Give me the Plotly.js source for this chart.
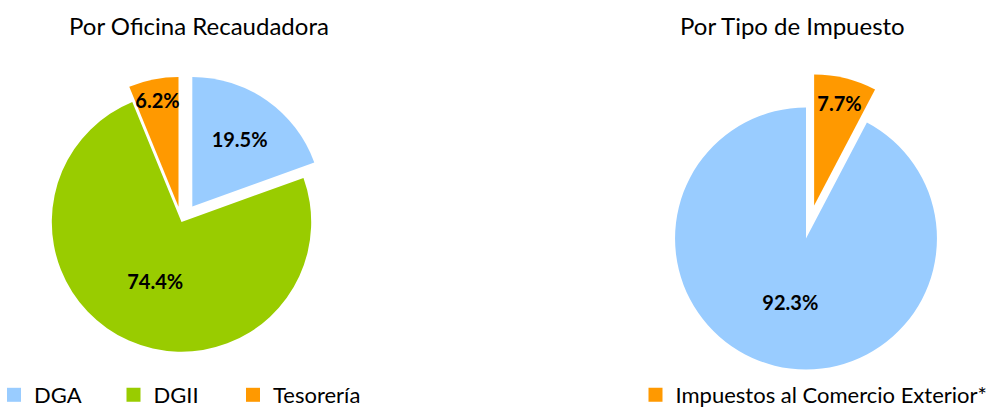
<!DOCTYPE html>
<html>
<head>
<meta charset="utf-8">
<script src="https://cdn.plot.ly/plotly-3.0.1.min.js"></script>
<style>html,body{margin:0;padding:0;background:#fff;}#chart{width:988px;height:408px;}</style>
</head>
<body>
<div id="chart"></div>
<script>
// Left pie: Por Oficina Recaudadora
var oficinaLabels = ['DGA', 'DGII', 'Tesorería'];
var oficinaValues = [19.5, 74.4, 6.2];
var oficinaColors = ['#99CCFF', '#99CC00', '#FF9900'];
var oficinaPull = [0.145, 0, 0.12];

// Right pie: Por Tipo de Impuesto
var impuestoLabels = ['Impuestos al Comercio Exterior*', 'Impuestos Internos'];
var impuestoValues = [7.7, 92.3];
var impuestoColors = ['#FF9900', '#99CCFF'];
var impuestoPull = [0.26, 0];

var titles = ['Por Oficina Recaudadora', 'Por Tipo de Impuesto'];

// legend entries shown in the reference (label, colour)
var legendLabels = [oficinaLabels[0], oficinaLabels[1], oficinaLabels[2], impuestoLabels[0]];
var legendColors = [oficinaColors[0], oficinaColors[1], oficinaColors[2], impuestoColors[0]];

var W = 988, H = 408;
function px(x){return x / W;}
function py(y){return 1 - y / H;}

var FONT = 'Lato, "Open Sans", sans-serif';

var traces = [
  {
    type: 'pie',
    labels: oficinaLabels,
    values: oficinaValues,
    sort: false,
    direction: 'clockwise',
    rotation: 0,
    pull: oficinaPull,
    showlegend: false,
    marker: {colors: oficinaColors, line: {width: 0}},
    texttemplate: '%{value:.1f}%',
    textposition: 'inside',
    insidetextorientation: 'horizontal',
    textfont: {family: FONT, size: 20, color: '#000', weight: 'bold'},
    hoverinfo: 'label+value',
    domain: {x: [px(33), px(330)], y: [py(370.5), py(73.5)]}
  },
  {
    type: 'pie',
    labels: impuestoLabels,
    values: impuestoValues,
    sort: false,
    direction: 'clockwise',
    rotation: 0,
    pull: impuestoPull,
    showlegend: false,
    marker: {colors: impuestoColors, line: {width: 0}},
    texttemplate: '%{value:.1f}%',
    textposition: 'inside',
    insidetextorientation: 'horizontal',
    textfont: {family: FONT, size: 20, color: '#000', weight: 'bold'},
    hoverinfo: 'label+value',
    domain: {x: [px(641), px(971)], y: [py(403.5), py(73.5)]}
  }
];

// one legend per entry so each sits where the reference has it
var legendIds = ['legend', 'legend2', 'legend3', 'legend4'];
var legendSymbolX = [17, 136.5, 256, 658.5];
legendLabels.forEach(function(lab, i){
  traces.push({
    type: 'scatter',
    mode: 'markers',
    x: [null], y: [null],
    name: lab,
    marker: {symbol: 'square', size: 14, color: legendColors[i]},
    hoverinfo: 'skip',
    showlegend: true,
    legend: legendIds[i]
  });
});

var layout = {
  width: W,
  height: H,
  margin: {l: 0, r: 0, t: 0, b: 0, autoexpand: false},
  paper_bgcolor: '#fff',
  plot_bgcolor: '#fff',
  font: {family: FONT, size: 22, color: '#000'},
  showlegend: true,
  uniformtext: {minsize: 20, mode: 'show'},
  xaxis: {visible: false, fixedrange: true},
  yaxis: {visible: false, fixedrange: true},
  annotations: [
    {text: titles[0], x: px(199), y: py(25), xref: 'paper', yref: 'paper', showarrow: false,
     xanchor: 'center', yanchor: 'middle', font: {family: FONT, size: 24, color: '#000'}},
    {text: titles[1], x: px(792), y: py(25), xref: 'paper', yref: 'paper', showarrow: false,
     xanchor: 'center', yanchor: 'middle', font: {family: FONT, size: 24, color: '#000'}}
  ]
};

legendIds.forEach(function(id, i){
  layout[id] = {
    orientation: 'h',
    x: px(legendSymbolX[i] - 23), xanchor: 'left',
    y: py(395), yanchor: 'middle',
    font: {family: FONT, size: 22, color: '#000'},
    bgcolor: 'rgba(0,0,0,0)'
  };
});

Plotly.newPlot('chart', traces, layout, {displayModeBar: false, staticPlot: true});
</script>
</body>
</html>
